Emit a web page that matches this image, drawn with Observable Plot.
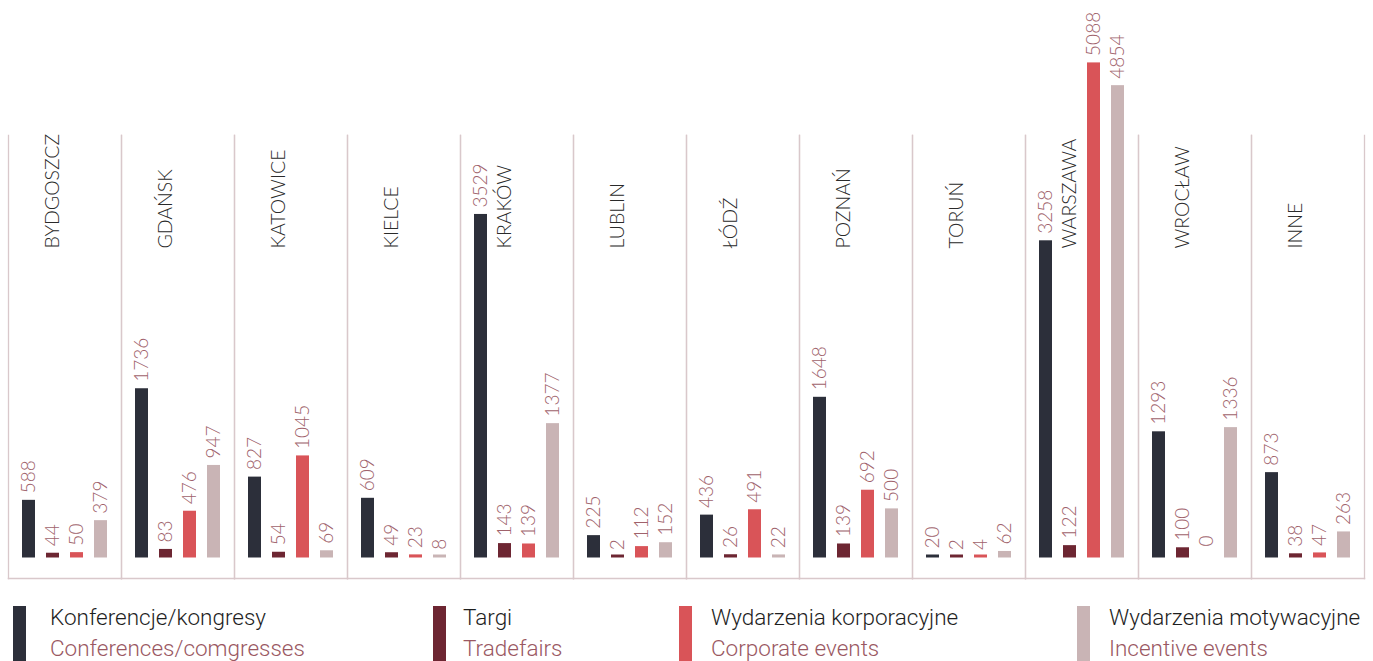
<!DOCTYPE html>
<html>
<head>
<meta charset="utf-8">
<script src="https://cdn.jsdelivr.net/npm/d3@7"></script>
<script src="https://cdn.jsdelivr.net/npm/@observablehq/plot@0.6"></script>
<style>
  html, body { margin: 0; padding: 0; background: #fff; }
  #wrap { position: relative; width: 1373px; height: 661px; overflow: hidden; }
  #legend { position: absolute; left: 0; top: 590px; width: 1373px; height: 71px; font-family: "Roboto", "Liberation Sans", sans-serif; font-weight: 300; }
  .item { position: absolute; top: 16px; height: 60px; }
  .sw { position: absolute; left: 0; top: 0; width: 13px; height: 60px; }
  .l1 { position: absolute; top: -1px; white-space: nowrap; font-size: 22.5px; color: #1e1e1e; line-height: 24px; }
  .l2 { position: absolute; top: 30px; white-space: nowrap; font-size: 22.5px; color: #9a5862; line-height: 24px; }
</style>
</head>
<body>
<div id="wrap">
  <div id="chart"></div>
  <div id="legend"></div>
</div>
<script>
const cities = ["BYDGOSZCZ","GDAŃSK","KATOWICE","KIELCE","KRAKÓW","LUBLIN","ŁÓDŹ","POZNAŃ","TORUŃ","WARSZAWA","WROCŁAW","INNE"];
const series = ["Konferencje/kongresy","Targi","Wydarzenia korporacyjne","Wydarzenia motywacyjne"];
const seriesEn = ["Conferences/comgresses","Tradefairs","Corporate events","Incentive events"];
const colors = ["#2c2f3a","#6d2632","#d95458","#c9b4b5"];

const konferencje = [588,1736,827,609,3529,225,436,1648,20,3258,1293,873];
const targi       = [44,83,54,49,143,2,26,139,2,122,100,38];
const korporacyjne= [50,476,1045,23,139,112,491,692,4,5088,0,47];
const motywacyjne = [379,947,69,8,1377,152,22,500,62,4854,1336,263];

const seriesValues = [konferencje, targi, korporacyjne, motywacyjne];
const data = [];
cities.forEach((c, i) => {
  series.forEach((s, j) => data.push({city: c, series: s, value: seriesValues[j][i]}));
});

const sep = "#d9c8cb";
const valueStyle = {fx: "city", x: "series", y: "value", text: d => String(d.value), rotate: -90, textAnchor: "start", lineAnchor: "middle", fill: "#a0626b", fontSize: 19, fontFamily: "Lato", fontWeight: 300};
const chart = Plot.plot({
  width: 1373,
  height: 590,
  marginLeft: 8,
  marginRight: 9,
  marginTop: 0,
  marginBottom: 33,
  style: {background: "transparent"},
  fx: {domain: cities, padding: 0, axis: null},
  x: {domain: series, paddingInner: 0.46, paddingOuter: 0.56, axis: null},
  y: {domain: [0, 5730], axis: null},
  color: {domain: series, range: colors},
  marks: [
    Plot.frame({anchor: "left", stroke: sep, strokeWidth: 1.3, insetTop: 135, insetBottom: -21}),
    Plot.frame({anchor: "right", stroke: sep, strokeWidth: 1.3, insetTop: 135, insetBottom: -21}),
    Plot.frame({anchor: "bottom", stroke: sep, strokeWidth: 1.5, insetBottom: -21}),
    Plot.barY(data, {fx: "city", x: "series", y: "value", fill: "series"}),
    Plot.tickY(data.filter(d => d.value > 0), {fx: "city", x: "series", y: 0, stroke: "series", strokeWidth: 3, dy: -1.5}),
    Plot.text(data.filter(d => d.value > 0), {...valueStyle, dy: -7}),
    Plot.text(data.filter(d => d.value === 0), {...valueStyle, dy: -11}),
    Plot.text(cities, {fx: d => d, x: () => series[1], frameAnchor: "top", lineAnchor: "middle", dy: 248, text: d => d, rotate: -90, textAnchor: "start", fill: "#2a2a2a", fontSize: 19.5, fontFamily: "Lato", fontWeight: 300})
  ]
});
document.getElementById("chart").appendChild(chart);

const legendPos = [{sw: 13, tx: 50}, {sw: 433, tx: 463}, {sw: 679, tx: 711}, {sw: 1077, tx: 1109}];
const legend = document.getElementById("legend");
series.forEach((s, i) => {
  const it = document.createElement("div");
  it.className = "item";
  it.style.left = legendPos[i].sw + "px";
  const sw = document.createElement("div");
  sw.className = "sw"; sw.style.background = colors[i];
  const l1 = document.createElement("div");
  l1.className = "l1"; l1.style.left = (legendPos[i].tx - legendPos[i].sw) + "px"; l1.textContent = s;
  const l2 = document.createElement("div");
  l2.className = "l2"; l2.style.left = (legendPos[i].tx - legendPos[i].sw) + "px"; l2.textContent = seriesEn[i];
  it.append(sw, l1, l2);
  legend.appendChild(it);
});
</script>
</body>
</html>
